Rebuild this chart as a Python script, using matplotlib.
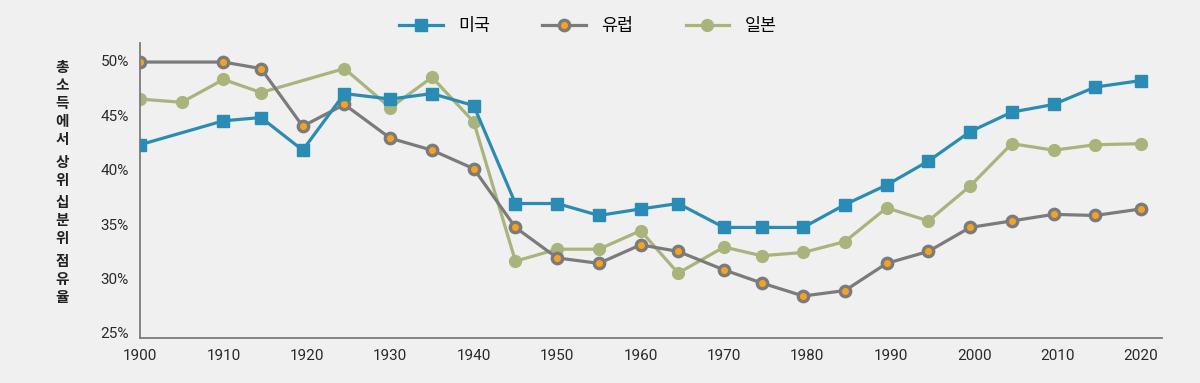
import matplotlib.pyplot as plt
from matplotlib.ticker import FuncFormatter

plt.rcParams['font.family'] = ['Noto Sans CJK KR', 'DejaVu Sans']

# 값은 그림에서 읽은 추정치
years = [1900, 1910, 1914.5, 1919.5, 1924.5, 1930, 1935, 1940, 1945, 1950, 1955, 1960,
         1964.5, 1970, 1974.5, 1979.5, 1984.5, 1989.5, 1994.5, 1999.5, 2004.5, 2009.5,
         2014.5, 2020]
us = [42.3, 44.5, 44.8, 41.8, 47.0, 46.5, 47.0, 45.9, 36.9, 36.9, 35.8, 36.4,
      36.9, 34.7, 34.7, 34.7, 36.8, 38.6, 40.8, 43.5, 45.3, 46.0, 47.6, 48.2]
europe = [49.9, 49.9, 49.3, 44.0, 46.0, 42.9, 41.8, 40.1, 34.7, 31.9, 31.4, 33.1,
          32.5, 30.8, 29.6, 28.4, 28.9, 31.4, 32.5, 34.7, 35.3, 35.9, 35.8, 36.4]
japan_years = [1900, 1905, 1910, 1914.5, 1924.5, 1930, 1935, 1940, 1945, 1950, 1955, 1960,
               1964.5, 1970, 1974.5, 1979.5, 1984.5, 1989.5, 1994.5, 1999.5, 2004.5, 2009.5,
               2014.5, 2020]
japan = [46.5, 46.2, 48.3, 47.1, 49.3, 45.7, 48.5, 44.4, 31.6, 32.7, 32.7, 34.4,
         30.5, 32.9, 32.1, 32.4, 33.4, 36.5, 35.3, 38.5, 42.4, 41.8, 42.3, 42.4]
xticks = list(range(1900, 2021, 10))
yticks = [25, 30, 35, 40, 45, 50]
ylabel_words = ['총소득에서', '상위', '십분위', '점유율']

bg = '#eff0ef'
fig = plt.figure(figsize=(12, 3.83), dpi=100, facecolor=bg)
ax = fig.add_axes([0.1167, 0.1175, 0.8516, 0.7702], facecolor=bg)

ax.plot(years, us, color='#2a8cb4', lw=2.3, marker='s', ms=8, label='미국', zorder=3)
ax.plot(years, europe, color='#7b7b7b', lw=2.3, marker='o', ms=7.5, mfc='#f5a21f',
        mec='#7b7b7b', mew=2.4, label='유럽', zorder=2)
ax.plot(japan_years, japan, color='#a8b47c', lw=2.3, marker='o', ms=8.5, label='일본', zorder=1)

ax.set_xlim(1900, 2022.5)
ax.set_ylim(24.54, 51.65)
ax.set_xticks(xticks)
ax.set_yticks(yticks)
ax.yaxis.set_major_formatter(FuncFormatter(lambda v, p: f'{v:.0f}%'))
ax.tick_params(length=0, labelsize=11, colors='#2a2a2a', pad=8)
for lab in ax.get_xticklabels() + ax.get_yticklabels():
    lab.set_family(['Roboto', 'DejaVu Sans'])

for s in ['top', 'right']:
    ax.spines[s].set_visible(False)
for s in ['left', 'bottom']:
    ax.spines[s].set_color('#7b7b7b')
    ax.spines[s].set_linewidth(1.3)

# 세로로 쌓은 y축 제목
y = 1 - 67 / 383
for w in ylabel_words:
    for ch in w:
        fig.text(62 / 1200, y, ch, ha='center', va='center', fontsize=10.5,
                 fontweight='bold', color='#222222')
        y -= 18 / 383
    y -= 4.5 / 383

fig.legend(loc='center', bbox_to_anchor=(0.49, 0.932), ncol=3, frameon=False,
           fontsize=12.5, handlelength=2.5, handletextpad=0.9, columnspacing=3.0)

fig.savefig('out.png', dpi=100, facecolor=bg)
